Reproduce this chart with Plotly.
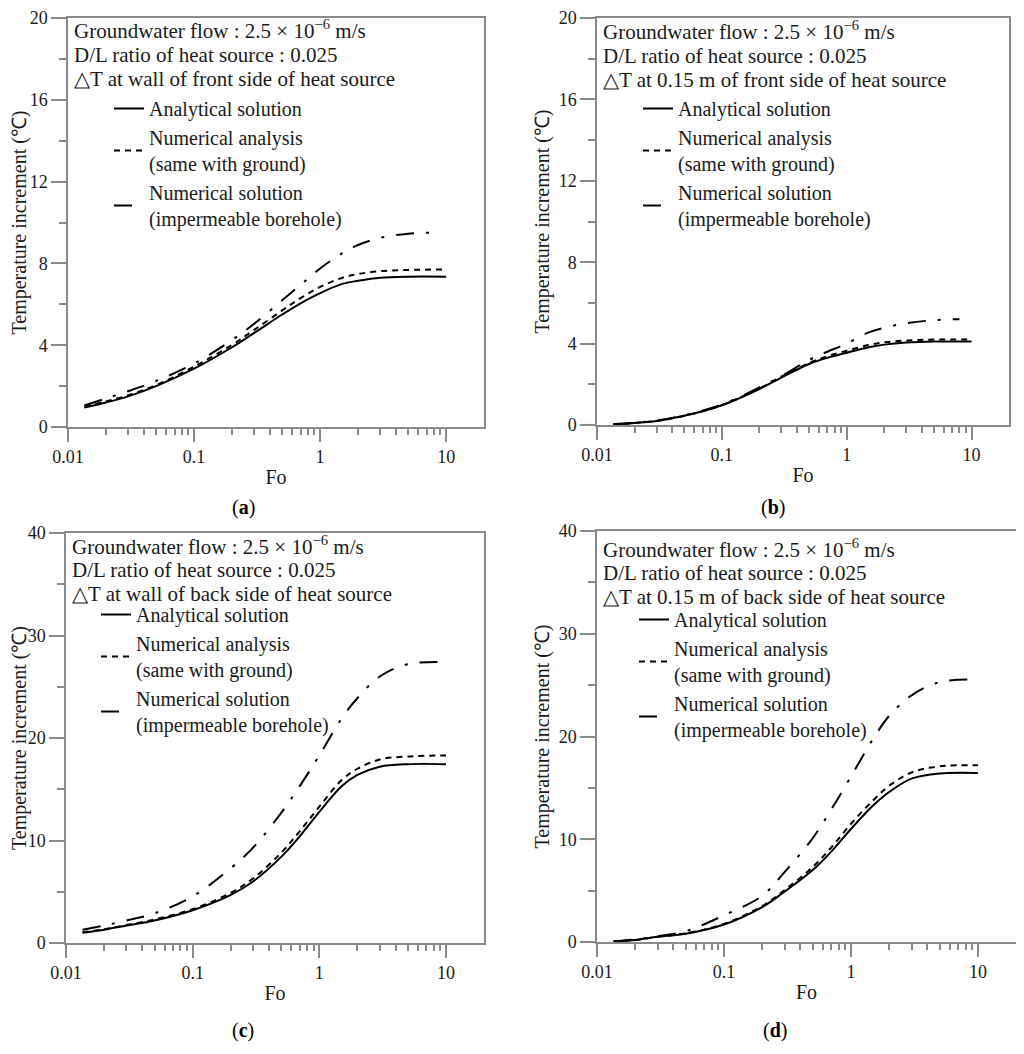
import plotly.graph_objects as go

FONT = "Liberation Serif, Times New Roman, serif"
# the html page keeps the browser's 8px body margin, so the figure is 16px smaller
OFF = 8
W, H = 1024 - 2 * OFF, 1054 - 2 * OFF

# Fourier number sample points
fo = [0.0135, 0.02, 0.03, 0.05, 0.1, 0.2, 0.3, 0.5, 0.7, 1, 1.5, 2, 3, 5, 10]
fo_short = [0.0135, 0.02, 0.03, 0.05, 0.1, 0.2, 0.3, 0.5, 0.7, 1, 1.5, 2, 3, 5, 8]

# (a) wall, front side
a_analytical = [0.95, 1.2, 1.5, 2.0, 2.85, 3.9, 4.6, 5.5, 6.05, 6.55, 7.0, 7.15, 7.3, 7.35, 7.35]
a_same_ground = [1.0, 1.25, 1.55, 2.05, 2.95, 4.02, 4.75, 5.7, 6.3, 6.85, 7.3, 7.48, 7.62, 7.68, 7.7]
a_impermeable = [1.05, 1.4, 1.75, 2.25, 3.1, 4.25, 5.05, 6.2, 6.95, 7.75, 8.5, 8.9, 9.25, 9.45, 9.5]

# (b) 0.15 m, front side
b_analytical = [0.03, 0.1, 0.2, 0.45, 0.97, 1.77, 2.33, 3.0, 3.3, 3.55, 3.82, 3.95, 4.05, 4.1, 4.1]
b_same_ground = [0.03, 0.1, 0.2, 0.45, 0.98, 1.8, 2.38, 3.05, 3.38, 3.65, 3.93, 4.06, 4.15, 4.2, 4.2]
b_impermeable = [0.04, 0.11, 0.22, 0.48, 1.0, 1.85, 2.4, 3.2, 3.6, 4.0, 4.55, 4.78, 5.0, 5.15, 5.2]

# (c) wall, back side
c_analytical = [1.0, 1.3, 1.7, 2.2, 3.2, 4.7, 6.0, 8.4, 10.4, 12.8, 15.3, 16.4, 17.2, 17.45, 17.45]
c_same_ground = [1.05, 1.35, 1.75, 2.3, 3.3, 4.9, 6.3, 8.8, 10.9, 13.3, 15.9, 17.0, 17.9, 18.2, 18.3]
c_impermeable = [1.3, 1.7, 2.2, 2.9, 4.55, 7.3, 9.3, 12.7, 15.3, 18.3, 21.9, 23.9, 26.0, 27.2, 27.4]

# (d) 0.15 m, back side
d_analytical = [0.06, 0.2, 0.5, 0.8, 1.7, 3.4, 4.9, 7.0, 8.8, 11.0, 13.3, 14.6, 15.9, 16.4, 16.45]
d_same_ground = [0.06, 0.2, 0.5, 0.85, 1.75, 3.5, 5.05, 7.3, 9.2, 11.5, 13.8, 15.2, 16.5, 17.1, 17.2]
d_impermeable = [0.06, 0.25, 0.55, 1.05, 2.6, 4.5, 6.8, 10.1, 12.9, 16.1, 19.8, 22.0, 24.0, 25.3, 25.55]

series_names = ["Analytical solution",
                "Numerical analysis<br>(same with ground)",
                "Numerical solution<br>(impermeable borehole)"]

info_lines = ["Groundwater flow : 2.5 \u00d7 10<sup>\u22126</sup> m/s",
              "D/L ratio of heat source : 0.025"]
positions = ["\u25b3T at wall of front side of heat source",
             "\u25b3T at 0.15 m of front side of heat source",
             "\u25b3T at wall of back side of heat source",
             "\u25b3T at 0.15 m of back side of heat source"]
panel_labels = ["a", "b", "c", "d"]
y_max = [20, 20, 40, 40]
y_step = [4, 4, 10, 10]

panels = [
    (a_analytical, a_same_ground, a_impermeable, fo_short),
    (b_analytical, b_same_ground, b_impermeable, fo_short),
    (c_analytical, c_same_ground, c_impermeable, fo),
    (d_analytical, d_same_ground, d_impermeable, fo),
]

# page pixel positions measured on the reference
boxes = [(68, 484, 18, 427), (597, 1009, 18, 425),   # left, right, top, bottom
         (66, 484, 533, 943), (597, 1016, 531, 942)]
info_xy = [(73, 30), (602, 31), (71, 545), (602, 548)]   # left edge, first line centre
legend_xy = [(109, 89), (638, 89), (96, 595), (634, 600)]
label_xy = [(243, 508), (773, 508), (243, 1030), (775, 1030)]
LINE_GAP = 24.5


def px(x):
    return min(1, max(0, (x - OFF) / W))


def py(y):
    return min(1, max(0, 1 - (y - OFF) / H))


line_styles = [dict(color="black", width=2),
               dict(color="black", width=2, dash="6px,5px"),
               dict(color="black", width=2, dash="18px,12px,3px,12px")]
axis_grey = "#8a8a8a"

fig = go.Figure()
layout = dict(width=W, height=H, margin=dict(l=0, r=0, t=0, b=0, autoexpand=False),
              plot_bgcolor="white", paper_bgcolor="white",
              font=dict(family=FONT, color="#1a1a1a", size=18),
              annotations=[])

for i, (analytical, same_ground, impermeable, fo_dd) in enumerate(panels):
    n = "" if i == 0 else str(i + 1)
    leg = "legend" + n
    xs = [fo, fo, fo_dd]
    for name, ys, x, style in zip(series_names, [analytical, same_ground, impermeable], xs, line_styles):
        fig.add_trace(go.Scatter(x=x, y=ys, name=name, mode="lines", line=dict(shape="spline", **style),
                                 xaxis="x" + n, yaxis="y" + n, legend=leg))

    l, r, t, b = boxes[i]
    layout["xaxis" + n] = dict(
        type="log", range=[-2, 1.3], domain=[px(l), px(r)], anchor="y" + n, automargin=False,
        tickmode="linear", tick0=0, dtick=1, ticklabeloverflow="allow",
        ticks="outside", ticklen=13, tickcolor=axis_grey, tickwidth=1.5,
        minor=dict(ticks="outside", ticklen=6, tickcolor=axis_grey, tickwidth=1.5, dtick="D1", showgrid=False),
        showline=True, linecolor=axis_grey, linewidth=1.5, mirror=True, showgrid=False, zeroline=False,
        tickfont=dict(size=18), title=dict(text="Fo", font=dict(size=20), standoff=4))
    layout["yaxis" + n] = dict(
        range=[0, y_max[i]], domain=[py(b), py(t)], anchor="x" + n, automargin=False,
        dtick=y_step[i], ticks="outside", ticklen=15, tickcolor=axis_grey, tickwidth=1.5,
        ticklabeloverflow="allow",
        minor=dict(ticks="outside", ticklen=7, tickcolor=axis_grey, tickwidth=1.5, dtick=y_step[i] / 2, showgrid=False),
        showline=True, linecolor=axis_grey, linewidth=1.5, mirror=True, showgrid=False, zeroline=False,
        tickfont=dict(size=18),
        title=dict(text="Temperature increment (\u2103)", font=dict(size=20), standoff=4))

    lx, ly = legend_xy[i]
    layout[leg] = dict(x=px(lx), y=py(ly), xanchor="left", yanchor="top",
                       bgcolor="rgba(0,0,0,0)", font=dict(size=20, family=FONT, color="#1a1a1a"),
                       tracegroupgap=0, itemwidth=30)

    ix, iy = info_xy[i]
    for k, line in enumerate(info_lines + [positions[i]]):
        layout["annotations"].append(dict(
            text=line, xref="paper", yref="paper", x=px(ix), y=py(iy + k * LINE_GAP),
            xanchor="left", yanchor="middle", showarrow=False, borderpad=0,
            font=dict(size=21, family=FONT, color="#1a1a1a")))
    lbx, lby = label_xy[i]
    layout["annotations"].append(dict(
        text="(<b>" + panel_labels[i] + "</b>)", xref="paper", yref="paper", x=px(lbx), y=py(lby),
        xanchor="center", yanchor="middle", showarrow=False, font=dict(size=20, family=FONT, color="black")))

fig.update_layout(**layout)
fig.write_html("out.html")
